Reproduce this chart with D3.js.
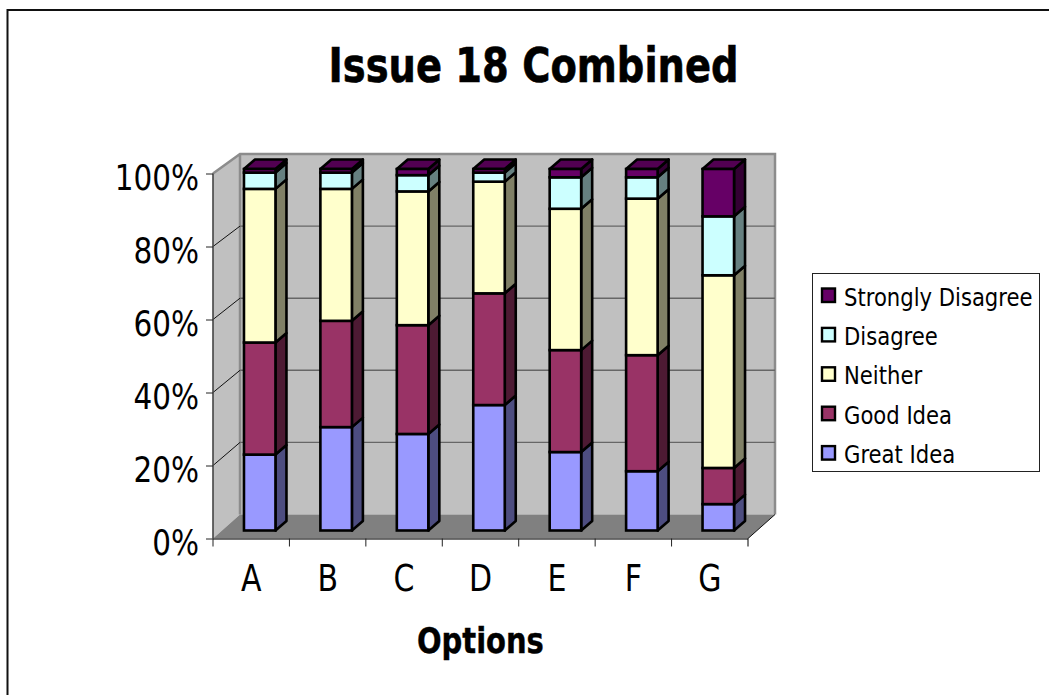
<!DOCTYPE html>
<html><head><meta charset="utf-8">
<script src="https://cdn.jsdelivr.net/npm/d3@7/dist/d3.min.js"></script>
<style>html,body{margin:0;padding:0;background:#fff}svg{display:block}text{font-family:"DejaVu Sans Condensed","DejaVu Sans",sans-serif;fill:#000}</style>
</head><body><div id="c"></div>
<script>
const categories = ["A","B","C","D","E","F","G"];
const seriesNames = ["Great Idea","Good Idea","Neither","Disagree","Strongly Disagree"];
const greatIdea = [21,28.6,26.7,34.7,21.7,16.4,7.3];
const goodIdea = [31,29.4,30.1,30.9,28.2,32.1,10];
const neither = [42.5,36.5,37,30.9,39.1,43.3,53.3];
const disagree = [4.5,4.5,4.5,2.5,8.7,5.9,16.3];
const stronglyDisagree = [1,1,1.7,1,2.3,2.3,13.1];
const yTicks = [0,.2,.4,.6,.8,1];
const fills = ["#9999ff","#993366","#ffffcc","#ccffff","#660066"];
const sides = ["#4d4d80","#4d1a33","#808066","#668080","#330033"];
const tops = ["#7a7acc","#7a2952","#ccccA3","#a3cccc","#520052"];

const W=1049,H=695;
const svg=d3.select("#c").append("svg").attr("width",W).attr("height",H);
const seriesValues=[greatIdea,goodIdea,neither,disagree,stronglyDisagree];
const rows=categories.map((c,i)=>{const r={cat:c};seriesNames.forEach((s,j)=>r[s]=seriesValues[j][i]);return r;});
const stack=d3.stack().keys(seriesNames).offset(d3.stackOffsetExpand)(rows);

const x=d3.scaleBand().domain(categories).range([213,748]);
const y=d3.scaleLinear().domain([0,1]).range([538.5,173.5]);
const yWall=d3.scaleLinear().domain([0,1]).range([514.5,154]);
const yBar=d3.scaleLinear().domain([0,1]).range([530.5,169]);
const dep=27, barFront=8.5, barDep={x:11,y:-9.5}, barW=31.5;
const squish=(sel,k)=>sel.each(function(){this.setAttribute("textLength",this.getComputedTextLength()*k);this.setAttribute("lengthAdjust","spacingAndGlyphs");});

// chart frame
svg.append("path").attr("d",`M${W},10H7.5V${H}`).attr("fill","none").attr("stroke","#111").attr("stroke-width",2);

// title
svg.append("text").attr("x",533.5).attr("y",82).attr("text-anchor","middle").attr("font-size",48).attr("font-weight","bold").attr("stroke","#000").attr("stroke-width",.6).text("Issue 18 Combined").call(squish,.89);

// walls
const X0=x.range()[0],X1=x.range()[1],WL=X0+dep,WR=X1+dep;
const wallStroke="#8c8c8c";
svg.append("path").attr("d",`M${X0},${y(0)}V${y(1)}L${WL},${yWall(1)}V${yWall(0)}Z`).attr("fill","#c0c0c0");
svg.append("rect").attr("x",WL).attr("y",yWall(1)).attr("width",X1-X0).attr("height",yWall(0)-yWall(1)).attr("fill","#c0c0c0");
svg.append("path").attr("d",`M${X0},${y(1)}L${WL},${yWall(1)}H${WR}V${yWall(0)}M${WL},${yWall(1)}V${yWall(0)}`).attr("fill","none").attr("stroke",wallStroke).attr("stroke-width",2.5);
svg.append("path").attr("d",`M${X0},${y(0)}H${X1}L${WR},${yWall(0)}H${WL}Z`).attr("fill","#808080");
// gridlines
yTicks.slice(1,-1).forEach(t=>{
  svg.append("path").attr("d",`M${WL},${yWall(t)}H${WR}`).attr("fill","none").attr("stroke","#666").attr("stroke-width",1.4);
  svg.append("path").attr("d",`M${X0},${y(t)}L${WL},${yWall(t)}`).attr("fill","none").attr("stroke","#111");
});

// axes
const yAxis=d3.axisLeft(y).tickValues(yTicks).tickFormat(d3.format(".0%")).tickSize(7).tickPadding(7);
const gy=svg.append("g").attr("transform",`translate(${X0},0)`).call(yAxis);
gy.selectAll("text").attr("font-size",36).attr("dy","0.44em").call(squish,.91);
const xAxis=d3.axisBottom(x).tickSize(8).tickPadding(18);
const gx=svg.append("g").attr("transform",`translate(0,${y(0)})`).call(xAxis);
gx.selectAll("text").attr("font-size",37).call(squish,.9);
gx.selectAll(".tick line").attr("transform",`translate(${-x.bandwidth()/2},0)`);
gx.append("line").attr("x1",X1).attr("x2",X1).attr("y1",0).attr("y2",8).attr("stroke","#000");
svg.selectAll(".domain").attr("stroke","#444").attr("stroke-width",1.6);
svg.selectAll(".tick line").attr("stroke","#222");
gx.select(".domain").attr("d",`M${X0},0.5H${X1}`);
gy.select(".domain").attr("d",`M0,${y(1)}V${y(0)}`);
svg.append("path").attr("d",`M${X1},${y(0)}L${WR},${yWall(0)}`).attr("stroke","#111");

// axis title
svg.append("text").attr("x",480.4).attr("y",652.7).attr("text-anchor","middle").attr("font-size",35).attr("font-weight","bold").attr("stroke","#000").attr("stroke-width",.4).text("Options").call(squish,.92);

// bars
const barOff=(x.bandwidth()-barW)/2+barFront;
const sw=2.6;
stack.forEach((s,si)=>{
  const g=svg.append("g");
  s.forEach((d,i)=>{
    const L=x(categories[i])+barOff,R=L+barW,T=yBar(d[1]),B=yBar(d[0]);
    g.append("path").attr("d",`M${R},${B}V${T}L${R+barDep.x},${T+barDep.y}V${B+barDep.y}Z`).attr("fill",sides[si]).attr("stroke","#000").attr("stroke-width",sw).attr("stroke-linejoin","round");
    if(si===seriesNames.length-1)
      g.append("path").attr("d",`M${L},${T}L${L+barDep.x},${T+barDep.y}H${R+barDep.x}L${R},${T}Z`).attr("fill",tops[si]).attr("stroke","#000").attr("stroke-width",sw).attr("stroke-linejoin","round");
    g.append("rect").attr("x",L).attr("y",T).attr("width",barW).attr("height",B-T).attr("fill",fills[si]).attr("stroke","#000").attr("stroke-width",sw);
  });
});

// legend
const lg=svg.append("g");
lg.append("rect").attr("x",812.5).attr("y",273.5).attr("width",227).attr("height",198).attr("fill","#fff").attr("stroke","#222");
const legendY=d3.scalePoint().domain(seriesNames.slice().reverse()).range([296,453.6]);
seriesNames.forEach((s,i)=>{
  const yy=legendY(s);
  lg.append("rect").attr("x",822).attr("y",yy-7.5).attr("width",13).attr("height",13.5).attr("fill",fills[i]).attr("stroke","#000").attr("stroke-width",2.4);
  lg.append("text").attr("x",844).attr("y",yy).attr("dy","0.38em").attr("font-size",25).text(s).call(squish,.94);
});
</script></body></html>
